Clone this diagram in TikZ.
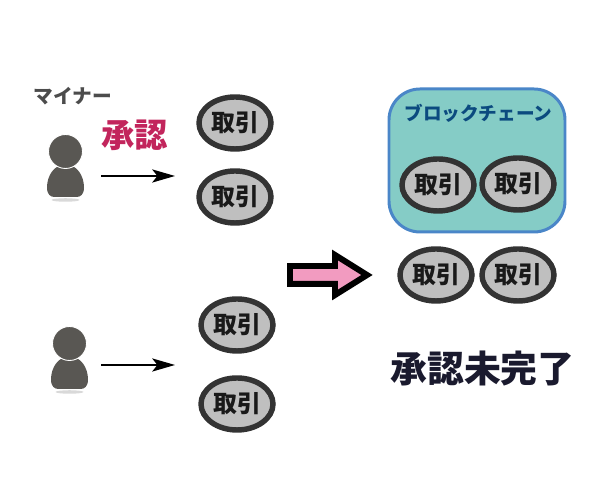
\documentclass[tikz,border=0pt]{standalone}
\usepackage{fontspec}
\setmainfont{Noto Sans CJK JP}[BoldFont={Noto Sans CJK JP Black}]
\usetikzlibrary{shapes.geometric, arrows.meta, positioning}
\definecolor{minergray}{HTML}{595753}
\definecolor{chainteal}{HTML}{85CCC6}
\definecolor{chainblue}{HTML}{4A86C8}
\definecolor{arrowpink}{HTML}{F29BC0}

\begin{document}
\begin{tikzpicture}[
  trade/.style={ellipse, draw=black!80, line width=3.1pt, fill=black!25, minimum width=1.44cm, minimum height=1.04cm, inner sep=0pt, outer sep=0pt, font=\fontsize{13.6}{15}\selectfont\bfseries, text=black!90, text depth=1.2pt},
  label/.style={inner sep=0pt, font=\bfseries},
  line/.style={draw, line width=0.85pt, -{Stealth[length=13pt, width=7.5pt, inset=3pt]}},
  person/.pic={
    \fill[black!15] (0, -0.97) ellipse (0.28 and 0.035);
    \fill[minergray] (0, -0.26) .. controls (0.24, -0.26) and (0.37, -0.5) .. (0.37, -0.72)
      .. controls (0.37, -0.86) and (0.3, -0.91) .. (0.22, -0.91) -- (-0.22, -0.91)
      .. controls (-0.3, -0.91) and (-0.37, -0.86) .. (-0.37, -0.72)
      .. controls (-0.37, -0.5) and (-0.24, -0.26) .. (0, -0.26) -- cycle;
    \draw[white, line width=0.5pt, fill=minergray] (0, 0) circle (0.34);
  }
]
\useasboundingbox (0, 0) rectangle (12, 10);

% Miners
\pic at (1.31, 6.97) {person};
\pic at (1.39, 3.13) {person};
\node[label, text=black!70, font=\fontsize{11.2}{12}\selectfont\bfseries] (miner) at (1.45, 8.08) {マイナー};
\node[label, text={rgb,255:red,194;green,37;blue,92}, font=\fontsize{19}{21}\selectfont\bfseries] (approved) at (2.69, 7.3) {承認};

% Blockchain
\node[draw=chainblue, line width=1.7pt, fill=chainteal, rounded corners=0.62cm, minimum width=3.52cm, minimum height=2.86cm, inner sep=0pt] (chain) at (9.54, 6.79) {};
\node[label, text={rgb,255:red,11;green,74;blue,127}, font=\fontsize{10.6}{12}\selectfont\bfseries] (chaintitle) at (9.57, 7.74) {ブロックチェーン};

% Transactions
\node[trade] (tx1) at (4.70, 7.54) {取引};
\node[trade] (tx2) at (4.70, 6.06) {取引};
\node[trade] (tx3) at (4.74, 3.50) {取引};
\node[trade] (tx4) at (4.74, 1.92) {取引};
\node[trade] (tx5) at (8.76, 6.30) {取引};
\node[trade] (tx6) at (10.36, 6.32) {取引};
\node[trade] (tx7) at (8.72, 4.50) {取引};
\node[trade] (tx8) at (10.36, 4.50) {取引};

% Big arrow
\draw[draw=black, line width=3.4pt, fill=arrowpink, miter limit=10] (5.80, 4.68) -- (6.70, 4.68) -- (6.70, 4.90) -- (7.34, 4.50) -- (6.70, 4.10) -- (6.70, 4.32) -- (5.80, 4.32) -- cycle;

\node[label, text={rgb,255:red,26;green,26;blue,46}, font=\fontsize{21}{23}\selectfont\bfseries] (pending) at (9.65, 2.62) {承認未完了};

% Connections
\coordinate (from1) at (2.02, 6.48);
\coordinate (to1) at (3.50, 6.48);
\coordinate (from2) at (2.02, 2.70);
\coordinate (to2) at (3.50, 2.70);
\draw[line] (from1) -- (to1);
\draw[line] (from2) -- (to2);

\end{tikzpicture}
\end{document}
